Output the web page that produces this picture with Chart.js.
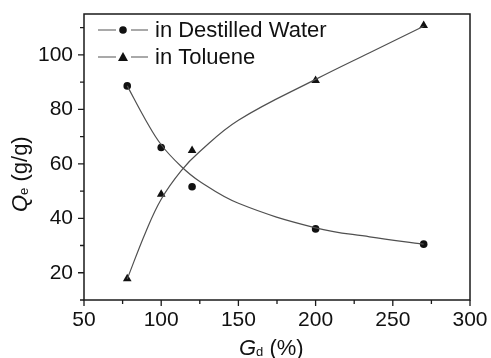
<!DOCTYPE html>
<html>
<head>
<meta charset="utf-8">
<script src="https://cdn.jsdelivr.net/npm/chart.js@4.4.1/dist/chart.umd.min.js"></script>
<style>
  html, body { margin: 0; padding: 0; background: #fff; }
  #wrap { width: 491px; height: 358px; }
</style>
</head>
<body>
<div id="wrap"><canvas id="myChart" width="491" height="358"></canvas></div>
<script>
// measured points
var gdValues = [78, 100, 120, 200, 270];
var waterQe = [88.6, 66, 51.6, 36.1, 30.5];
var tolueneQe = [17.8, 48.8, 64.9, 90.6, 110.8];

// fitted curves
var fitGd = [78, 90, 100, 113, 125, 150, 200, 235, 270];
var waterFit = [88.6, 76, 67, 59, 53.5, 45.5, 36.5, 33.2, 30.5];
var tolueneFit = [17.7, 35, 47, 57.5, 64.5, 76, 91, 100.8, 110.5];

// axes
var xMajor = [50, 100, 150, 200, 250, 300];
var xMinor = [75, 125, 175, 225, 275];
var yMajor = [20, 40, 60, 80, 100];
var yMinor = [10, 30, 50, 70, 90, 110];

var legendNames = ["in Destilled Water", "in Toluene"];

var FONT = "'Liberation Sans', Arial, sans-serif";

function pts(xs, ys) {
  var out = [];
  for (var i = 0; i < xs.length; i++) out.push({ x: xs[i], y: ys[i] });
  return out;
}

var frame = {
  id: 'frame',
  afterDatasetsDraw: function (chart) {
    var ctx = chart.ctx, a = chart.chartArea;
    var xs = chart.scales.x, ys = chart.scales.y;
    ctx.save();
    ctx.strokeStyle = '#1a1a1a';
    ctx.lineWidth = 1.5;
    ctx.strokeRect(a.left, a.top, a.right - a.left, a.bottom - a.top);
    ctx.lineWidth = 1.3;
    ctx.beginPath();
    xMajor.forEach(function (v) { var p = xs.getPixelForValue(v); ctx.moveTo(p, a.bottom); ctx.lineTo(p, a.bottom + 6); });
    xMinor.forEach(function (v) { var p = xs.getPixelForValue(v); ctx.moveTo(p, a.bottom); ctx.lineTo(p, a.bottom + 4); });
    yMajor.forEach(function (v) { var p = ys.getPixelForValue(v); ctx.moveTo(a.left, p); ctx.lineTo(a.left - 6, p); });
    yMinor.forEach(function (v) { var p = ys.getPixelForValue(v); ctx.moveTo(a.left, p); ctx.lineTo(a.left - 4, p); });
    ctx.stroke();

    // legend
    var rows = [30, 57];
    ctx.fillStyle = '#111';
    ctx.strokeStyle = '#555';
    ctx.lineWidth = 1.2;
    for (var i = 0; i < 2; i++) {
      var y = rows[i];
      ctx.beginPath();
      ctx.moveTo(98, y); ctx.lineTo(116, y);
      ctx.moveTo(131, y); ctx.lineTo(148, y);
      ctx.stroke();
      ctx.beginPath();
      if (i == 0) {
        ctx.arc(123, y, 3.8, 0, Math.PI * 2);
      } else {
        ctx.moveTo(123, y - 5); ctx.lineTo(128, y + 4); ctx.lineTo(118, y + 4); ctx.closePath();
      }
      ctx.fill();
      ctx.font = '22px ' + FONT;
      ctx.textBaseline = 'middle';
      ctx.textAlign = 'left';
      ctx.fillText(legendNames[i], 155, y + 1);
    }

    // axis titles with subscripts
    ctx.textBaseline = 'alphabetic';
    ctx.textAlign = 'left';
    var xt = 239, yb = 355;
    ctx.font = 'italic 22px ' + FONT;
    ctx.fillText('G', xt, yb);
    xt += ctx.measureText('G').width;
    ctx.font = '13px ' + FONT;
    ctx.fillText('d', xt, yb + 1);
    xt += ctx.measureText('d').width;
    ctx.font = '22px ' + FONT;
    ctx.fillText(' (%)', xt, yb);

    ctx.translate(27, 0);
    ctx.rotate(-Math.PI / 2);
    var ty = -212, tb = 0;
    ctx.font = 'italic 22px ' + FONT;
    ctx.fillText('Q', ty, tb);
    ty += ctx.measureText('Q').width;
    ctx.font = '13px ' + FONT;
    ctx.fillText('e', ty, tb + 1);
    ty += ctx.measureText('e').width;
    ctx.font = '22px ' + FONT;
    ctx.fillText(' (g/g)', ty, tb);
    ctx.restore();
  }
};

var ctx = document.getElementById('myChart').getContext('2d');
var myChart = new Chart(ctx, {
  type: 'scatter',
  data: {
    datasets: [
      {
        label: 'water fit',
        data: pts(fitGd, waterFit),
        showLine: true,
        borderColor: '#505050',
        borderWidth: 1.2,
        pointRadius: 0,
        tension: 0.4
      },
      {
        label: 'toluene fit',
        data: pts(fitGd, tolueneFit),
        showLine: true,
        borderColor: '#505050',
        borderWidth: 1.2,
        pointRadius: 0,
        tension: 0.4
      },
      {
        label: legendNames[0],
        data: pts(gdValues, waterQe),
        pointStyle: 'circle',
        pointRadius: 3.8,
        backgroundColor: '#111',
        borderColor: '#111',
        borderWidth: 0
      },
      {
        label: legendNames[1],
        data: pts(gdValues, tolueneQe),
        pointStyle: 'triangle',
        pointRadius: 5,
        backgroundColor: '#111',
        borderColor: '#111',
        borderWidth: 0
      }
    ]
  },
  options: {
    responsive: false,
    animation: false,
    layout: { padding: { top: 14, right: 21, left: 0, bottom: 0 } },
    plugins: { legend: { display: false }, tooltip: { enabled: false } },
    scales: {
      x: {
        type: 'linear',
        min: 50,
        max: 300,
        afterBuildTicks: function (s) { s.ticks = xMajor.map(function (v) { return { value: v }; }); },
        afterFit: function (s) { s.height = 58; s.paddingLeft = 0; s.paddingRight = 0; },
        grid: { display: false, drawTicks: false },
        border: { display: false },
        ticks: { padding: 8, color: '#111', font: { family: FONT, size: 21 }, maxRotation: 0 }
      },
      y: {
        type: 'linear',
        min: 10,
        max: 115,
        afterBuildTicks: function (s) { s.ticks = yMajor.map(function (v) { return { value: v }; }); },
        afterFit: function (s) { s.width = 84; s.paddingTop = 0; s.paddingBottom = 0; },
        grid: { display: false, drawTicks: false },
        border: { display: false },
        ticks: { padding: 11, color: '#111', font: { family: FONT, size: 21 } }
      }
    }
  },
  plugins: [frame]
});
</script>
</body>
</html>
